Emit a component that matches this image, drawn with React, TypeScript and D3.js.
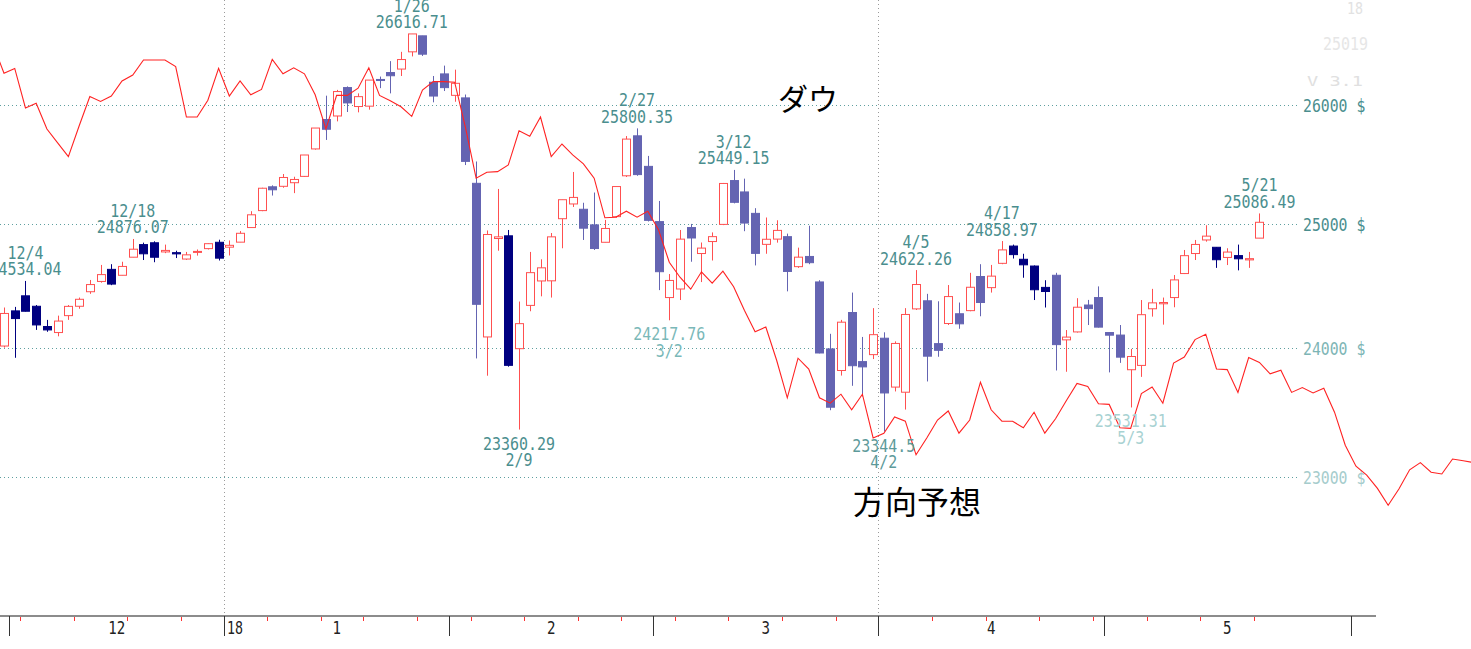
import React from "react";
import * as d3 from "d3";

// Trading dates (first entry Nov 29 is only used by the forecast line)
const monthDays: [number, number, number[]][] = [
  [2017, 11, [29, 30]],
  [2017, 12, [1, 4, 5, 6, 7, 8, 11, 12, 13, 14, 15, 18, 19, 20, 21, 22, 26, 27, 28, 29]],
  [2018, 1, [2, 3, 4, 5, 8, 9, 10, 11, 12, 16, 17, 18, 19, 22, 23, 24, 25, 26, 29, 30, 31]],
  [2018, 2, [1, 2, 5, 6, 7, 8, 9, 12, 13, 14, 15, 16, 20, 21, 22, 23, 26, 27, 28]],
  [2018, 3, [1, 2, 5, 6, 7, 8, 9, 12, 13, 14, 15, 16, 19, 20, 21, 22, 23, 26, 27, 28, 29]],
  [2018, 4, [2, 3, 4, 5, 6, 9, 10, 11, 12, 13, 16, 17, 18, 19, 20, 23, 24, 25, 26, 27, 30]],
  [2018, 5, [1, 2, 3, 4, 7, 8, 9, 10, 11, 14, 15, 16, 17, 18, 21, 22, 23, 24, 25, 28, 29, 30, 31]],
  [2018, 6, [1, 4, 5, 6, 7, 8, 11, 12, 13, 14, 15, 18]],
];

// Dow OHLC from 2017-11-30 to 2018-05-21
const openP = [
  24013, 24293, 24414, 24330, 24168, 24120, 24255, 24330, 24447, 24530,
  24628, 24580, 24727, 24830, 24845, 24770, 24764, 24712, 24766, 24797,
  24849, 24809, 24850, 24970, 25110, 25308, 25312, 25342, 25395, 25626,
  25876, 25906, 26150, 25987, 25990, 26220, 26280, 26310, 26460, 26600,
  26196, 26268, 26083, 26061, 25337, 24085, 24880, 24902, 23992, 24337,
  24534, 24535, 25043, 25165, 25121, 24992, 24849, 25060, 25400, 25737,
  25479, 25019, 24400, 24469, 24970, 24757, 24855, 24996, 25360, 25265,
  25087, 24832, 24875, 24895, 24650, 24733, 24526, 23990, 23820, 24280,
  23890, 23945, 24075, 23690, 23650, 24309, 24374, 24032, 24192, 24270,
  24295, 24570, 24480, 24677, 24818, 24710, 24655, 24482, 24580, 24062,
  24125, 24340, 24400, 24120, 24100, 23826, 23860, 24310, 24350, 24400,
  24594, 24757, 24868, 24808, 24725, 24740, 24705, 24883,
];
const highP = [
  24320, 24325, 24534.04, 24340, 24221, 24255, 24340, 24400, 24542, 24664,
  24670, 24690, 24876.07, 24846, 24857, 24830, 24780, 24770, 24790, 24840,
  24870, 24864, 24941, 25105, 25300, 25320, 25415, 25392, 25575, 25803,
  26080, 26130, 26160, 26100, 26215, 26245, 26379, 26460, 26616.71, 26600,
  26250, 26340, 26305, 26090, 25520, 24946, 25290, 24950, 24368, 24770,
  24710, 24925, 25200, 25432, 25175, 25260, 25033, 25310, 25735, 25800.35,
  25567, 25190, 24590, 24950, 25000, 24847, 24930, 25340, 25449.15, 25376,
  25130, 25053, 25030, 24920, 24805, 24985, 24540, 24110, 24221, 24440,
  24085, 24315, 24122, 24050, 24315, 24622.26, 24430, 24370, 24501, 24360,
  24600, 24670, 24664, 24858.97, 24830, 24755, 24660, 24540, 24600, 24140,
  24395, 24381, 24490, 24120, 24180, 23990, 24380, 24470, 24400, 24582,
  24786, 24868, 24989, 24810, 24800, 24830, 24770, 25086.49,
];
const lowP = [
  24000, 23920, 24288, 24141, 24126, 24090, 24221, 24310, 24430, 24520,
  24500, 24580, 24727, 24704, 24686, 24760, 24720, 24705, 24740, 24790,
  24700, 24741, 24850, 24970, 25105, 25235, 25300, 25255, 25390, 25620,
  25702, 25860, 25940, 25937, 25960, 26145, 26100, 26250, 26420, 26424,
  26023, 26120, 26028, 25490, 23915, 23779, 24780, 23850, 23360.29, 24290,
  24410, 24400, 24800, 25140, 24868, 24786, 24849, 25050, 25390, 25400,
  25020, 24460, 24217.76, 24380, 24690, 24525, 24700, 24990, 25170, 24940,
  24660, 24755, 24846, 24450, 24640, 24670, 23955, 23510, 23780, 23700,
  23617, 23910, 23344.5, 23656, 23515, 24300, 23734, 23928, 24180, 24150,
  24290, 24250, 24440, 24670, 24716, 24560, 24380, 24320, 23820, 23810,
  24120, 24180, 24160, 23805, 23880, 23531.31, 23770, 24247, 24183, 24322,
  24590, 24704, 24854, 24640, 24663, 24620, 24640, 24883,
];
const closeP = [
  24272.35, 24231.59, 24290.05, 24180.64, 24140.91, 24211.48, 24329.16, 24386.03, 24504.8, 24585.43,
  24508.66, 24651.74, 24792.2, 24754.75, 24726.65, 24782.29, 24754.06, 24746.21, 24774.3, 24837.51,
  24719.22, 24824.01, 24922.68, 25075.13, 25295.87, 25283.0, 25385.8, 25369.13, 25574.73, 25803.19,
  25792.86, 26115.65, 26017.81, 26071.72, 26214.6, 26210.81, 26252.12, 26392.79, 26616.71, 26439.48,
  26076.89, 26149.39, 26186.71, 25520.96, 24345.75, 24912.77, 24893.35, 23860.46, 24190.9, 24601.27,
  24640.45, 24893.49, 25200.37, 25219.38, 24964.75, 24797.78, 24962.48, 25309.99, 25709.27, 25410.03,
  25029.2, 24608.98, 24538.06, 24874.76, 24884.12, 24801.36, 24895.21, 25335.74, 25178.61, 25007.03,
  24758.12, 24873.66, 24946.51, 24610.91, 24727.27, 24682.31, 23957.89, 23533.2, 24202.6, 23857.71,
  23848.42, 24103.11, 23644.19, 24033.36, 24264.3, 24505.22, 23932.76, 23979.1, 24408.0, 24189.45,
  24483.05, 24360.14, 24573.04, 24786.63, 24748.07, 24664.89, 24462.94, 24448.69, 24024.13, 24083.83,
  24322.34, 24311.19, 24163.15, 24099.05, 23924.98, 23930.15, 24262.51, 24357.32, 24360.21, 24542.54,
  24739.53, 24831.17, 24899.41, 24706.41, 24768.93, 24713.98, 24715.09, 25013.29,
];

// 方向予想 (direction forecast), unitless index, from 2017-11-29 to 2018-06-18
const forecast = [
  92.5, 87.8, 88.6, 82.0, 82.8, 78.5, 76.2, 73.9, 79.0, 83.9,
  83.1, 84.0, 86.5, 87.5, 90.0, 90.0, 90.0, 88.9, 80.5, 80.5,
  83.3, 88.6, 84.0, 86.5, 84.2, 85.1, 90.1, 87.7, 88.7, 87.7,
  84.2, 78.5, 84.1, 84.1, 85.3, 88.7, 84.1, 83.2, 82.2, 80.6,
  85.0, 86.4, 86.4, 86.3, 78.8, 70.3, 71.3, 71.4, 72.5, 78.2,
  77.3, 80.5, 73.9, 76.0, 74.2, 72.7, 70.3, 63.7, 63.8, 64.8,
  63.8, 64.8, 61.7, 56.3, 53.8, 51.8, 54.7, 52.8, 54.8, 52.2,
  48.3, 44.7, 45.5, 40.0, 33.7, 40.3, 38.5, 33.7, 32.8, 34.3,
  31.7, 34.3, 27.0, 27.8, 30.5, 29.8, 24.2, 27.0, 30.0, 31.5,
  27.8, 30.0, 36.3, 31.7, 29.8, 29.8, 28.7, 31.3, 27.8, 30.2,
  33.2, 36.1, 35.6, 32.7, 32.6, 28.7, 28.6, 34.4, 35.5, 32.8,
  39.5, 40.5, 43.4, 44.3, 38.5, 38.4, 34.6, 40.4, 39.6, 37.7,
  38.3, 34.6, 35.4, 34.5, 35.3, 31.3, 25.8, 22.3, 20.8, 18.6,
  15.8, 18.5, 21.7, 22.9, 21.3, 21.0, 23.5, 23.2, 22.9,
];

const priceTicks = [23000, 24000, 25000, 26000];

// Annotated highs and lows: candle index, date text, value text
const highNotes: [number, string, string][] = [
  [2, "12/4", "24534.04"],
  [12, "12/18", "24876.07"],
  [38, "1/26", "26616.71"],
  [59, "2/27", "25800.35"],
  [68, "3/12", "25449.15"],
  [85, "4/5", "24622.26"],
  [93, "4/17", "24858.97"],
  [117, "5/21", "25086.49"],
];
const lowNotes: [number, string, string][] = [
  [48, "2/9", "23360.29"],
  [62, "3/2", "24217.76"],
  [82, "4/2", "23344.5"],
  [105, "5/3", "23531.31"],
];

const MONO = "'DejaVu Sans Mono', monospace";

function Mono(props: {
  x: number; y: number; text: string; anchor?: string; fill: string; cw?: number; size?: number; opacity?: number;
}) {
  const cw = props.cw ?? 9;
  return (
    <text
      x={props.x}
      y={props.y}
      textAnchor={props.anchor ?? "middle"}
      fill={props.fill}
      fontFamily={MONO}
      fontSize={props.size ?? 18}
      textLength={props.text.length * cw}
      lengthAdjust="spacingAndGlyphs"
      opacity={props.opacity ?? 1}
    >
      {props.text}
    </text>
  );
}

export default function App() {
  const W = 1471;
  const H = 649;
  const step = 10.73;
  const x = d3.scaleLinear().domain([0, 137]).range([4, 4 + 137 * step]);
  const y = d3.scaleLog().domain([23000, 26000]).range([476.7, 105]);
  const fy = d3.scaleLinear().domain([0, 100]).range([600, 0]);

  // flatten dates; position p corresponds to index i = p - 1
  const dates: Date[] = [];
  monthDays.forEach(([yy, mm, days]) => days.forEach((d) => dates.push(new Date(yy, mm - 1, d))));
  const dateAt = (i: number) => dates[i + 1];

  const axisY = 616;
  const teal = "#4a8e8e";
  const navy = "#000080";
  const purple = "#6464b2";
  const upCol = "#ff5050";

  // month boundaries
  const bounds: { i: number; x: number; m: number; yr: number }[] = [];
  for (let i = 1; i <= 137; i++) {
    const a = dateAt(i - 1), b = dateAt(i);
    if (a.getMonth() !== b.getMonth()) bounds.push({ i, x: x(i - 0.5), m: b.getMonth() + 1, yr: b.getFullYear() });
  }
  // weekly ticks (only where candles exist)
  const weekTicks: number[] = [];
  for (let i = 1; i < closeP.length; i++) {
    if (dateAt(i).getDay() < dateAt(i - 1).getDay()) weekTicks.push(x(i - 0.5));
  }

  const isNavy = (i: number) => i <= 24 || i === 47 || (i >= 93 && i <= 97) || i >= 111;

  const line = d3
    .line<number>()
    .x((_, k) => x(k - 1))
    .y((v) => fy(v));

  return (
    <div style={{ position: "absolute", left: 0, top: 0 }}>
      <svg width={W} height={H} style={{ display: "block", background: "#fff" }}>
        {/* faint ghost text top-right */}
        <g fill="#e4e4e4" fontFamily={MONO}>
          <Mono x={1347} y={14} text="18" anchor="start" fill="#e2e2e2" cw={8} size={16} />
          <Mono x={1323} y={50} text="25019" anchor="start" fill="#e6e6e6" cw={9} size={18} />
          <Mono x={1307} y={86} text="V    3.1" anchor="start" fill="#e0e0e0" cw={7} size={14} />
        </g>

        {/* horizontal grid */}
        {priceTicks.map((t) => (
          <g key={t}>
            <line x1={0} x2={1297} y1={Math.round(y(t)) + 0.5} y2={Math.round(y(t)) + 0.5}
              stroke="#5f9f9f" strokeDasharray="1 3" />
            <Mono x={1303} y={y(t) + 7} text={`${t} $`} anchor="start"
              fill={t >= 25000 ? teal : t === 24000 ? "#7db5b5" : "#a5cccc"} cw={8.9} />
          </g>
        ))}

        {/* quarter vertical dotted lines */}
        {bounds.filter((b) => [1, 4, 7, 10].includes(b.m)).map((b) => (
          <line key={"q" + b.i} x1={Math.round(b.x) + 0.5} x2={Math.round(b.x) + 0.5} y1={0} y2={axisY - 2}
            stroke="#9a9a9a" strokeDasharray="1 3" />
        ))}

        {/* candles */}
        {closeP.map((c, i) => {
          const o = openP[i];
          const up = c >= o;
          const col = up ? upCol : isNavy(i) ? navy : purple;
          const xc = Math.round(x(i)) + 0.5;
          const top = y(Math.max(o, c));
          const bot = y(Math.min(o, c));
          const h = Math.max(1, bot - top);
          return (
            <g key={"c" + i}>
              <line x1={xc} x2={xc} y1={y(highP[i])} y2={y(lowP[i])} stroke={col} strokeWidth={1} />
              <rect x={xc - 4} y={top} width={8} height={h}
                fill={up ? "#fff" : col} stroke={col} strokeWidth={1} />
            </g>
          );
        })}

        {/* forecast line */}
        <path d={line(forecast) ?? ""} fill="none" stroke="#ff2222" strokeWidth={1.1} />

        {/* high annotations */}
        {highNotes.map(([i, d, v]) => {
          const yb = y(highP[i]) - 5.5;
          return (
            <g key={"h" + i}>
              <Mono x={x(i)} y={yb - 16.5} text={d} fill={teal} />
              <Mono x={x(i)} y={yb} text={v} fill={teal} />
            </g>
          );
        })}
        {/* low annotations */}
        {lowNotes.map(([i, d, v], k) => {
          const yb = y(lowP[i]) + 20;
          const fill = k === 0 ? teal : k === 1 ? "#7ab8b8" : k === 2 ? "#5d9a9a" : "#a8d2d2";
          return (
            <g key={"l" + i}>
              <Mono x={x(i)} y={yb} text={v} fill={fill} />
              <Mono x={x(i)} y={yb + 16.5} text={d} fill={fill} />
            </g>
          );
        })}

        {/* titles */}
        <text x={778} y={110} fontFamily="'Noto Sans CJK JP', sans-serif" fontSize={30} fill="#000">ダウ</text>
        <text x={853} y={514} fontFamily="'Noto Sans CJK JP', sans-serif" fontSize={32} fill="#000">方向予想</text>

        {/* x axis */}
        <line x1={0} x2={1376} y1={axisY} y2={axisY} stroke="#8c8c8c" strokeWidth={2} />
        {weekTicks.map((wx, k) => (
          <line key={"w" + k} x1={Math.round(wx) + 0.5} x2={Math.round(wx) + 0.5} y1={axisY + 1} y2={axisY + 5}
            stroke="#ff3030" />
        ))}
        {bounds.map((b) => (
          <line key={"m" + b.i} x1={Math.round(b.x) + 0.5} x2={Math.round(b.x) + 0.5} y1={axisY} y2={axisY + 20}
            stroke="#333" />
        ))}
        {bounds.slice(0, -1).map((b, k) => {
          const nx = bounds[k + 1].x;
          return (
            <g key={"ml" + b.i}>
              <Mono x={(b.x + nx) / 2} y={634} text={String(b.m)} fill="#222" cw={8.5} />
              {b.m === 1 ? (
                <Mono x={b.x + 3} y={634} text={String(b.yr % 100)} anchor="start" fill="#222" cw={8} />
              ) : null}
            </g>
          );
        })}
      </svg>
    </div>
  );
}
